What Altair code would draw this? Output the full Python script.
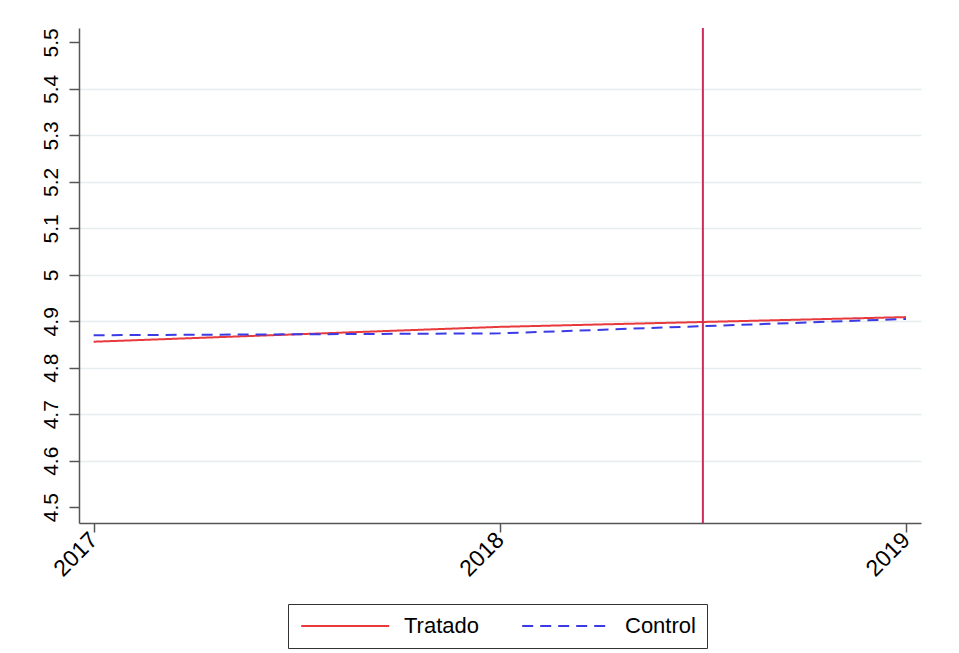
import altair as alt
import pandas as pd

# ---- data ----
years = [2017, 2018, 2019]
tratado = [4.856, 4.888, 4.909]
control = [4.870, 4.874, 4.905]
series_names = ["Tratado", "Control"]
treatment_time = [2018.5]
y_ticks = [4.5, 4.6, 4.7, 4.8, 4.9, 5.0, 5.1, 5.2, 5.3, 5.4, 5.5]

df = pd.DataFrame({
    "year": years + years,
    "value": tratado + control,
    "group": [series_names[0]] * len(years) + [series_names[1]] * len(years),
})
vline = pd.DataFrame({"year": treatment_time})

FONT = "Liberation Sans"
RED = "#e8393c"
BLUE = "#3b3be6"
VLINE = "#cc2c5a"
AXIS = "#555555"

# yearly ticks (2017, 2018, 2019) come from the scale's own tick generator
x_axis = alt.Axis(
    tickCount=2, tickMinStep=1, title=None, grid=False,
    labelExpr="format(datum.value, 'd')",
    labelAngle=315, labelAlign="right", labelBaseline="middle",
    labelFontSize=23, labelFont=FONT, labelColor="black",
    labelOverlap=False, labelFlush=False, labelBound=False,
    tickSize=9, tickColor=AXIS, tickWidth=1.5,
    domainColor=AXIS, domainWidth=1.5, labelPadding=4,
)
x_scale = alt.Scale(domain=[2016.964, 2019.037], nice=False, zero=False)

y_enc = alt.Y(
    "value:Q",
    scale=alt.Scale(domain=[4.466, 5.531], nice=False, zero=False),
    axis=alt.Axis(
        values=y_ticks, format=".1~f", title=None, grid=True,
        gridColor="#e6edf0", gridWidth=1.5,
        gridOpacity=alt.condition("datum.value < 4.55 || datum.value > 5.45", alt.value(0), alt.value(1)),
        labelAngle=270, labelFontSize=21, labelFont=FONT, labelColor="black",
        labelOverlap=False, labelFlush=False,
        tickSize=10, tickColor=AXIS, tickWidth=1.5,
        domainColor=AXIS, domainWidth=1.5, labelPadding=8,
    ),
)

lines = alt.Chart(df).mark_line(strokeWidth=2).encode(
    x=alt.X("year:Q", scale=x_scale, axis=x_axis),
    y=y_enc,
    color=alt.Color(
        "group:N",
        scale=alt.Scale(domain=series_names, range=[RED, BLUE]),
        legend=alt.Legend(title=None),
    ),
    strokeDash=alt.StrokeDash(
        "group:N",
        scale=alt.Scale(domain=series_names, range=[[1, 0], [11, 7]]),
        legend=alt.Legend(title=None),
    ),
)

rule = alt.Chart(vline).mark_rule(color=VLINE, strokeWidth=2).encode(
    x=alt.X("year:Q", scale=x_scale, axis=x_axis)
)

chart = (
    alt.layer(lines, rule)
    .properties(
        width=842, height=495,
        padding={"left": 31, "top": 19, "right": 17, "bottom": 5},
        background="white",
    )
    .configure_view(stroke=None)
    .configure_legend(
        orient="none", legendX=209, legendY=576, direction="horizontal",
        strokeColor="#333333", padding=11, symbolType="M-1,0H9",
        symbolSize=310, symbolStrokeWidth=2, labelFontSize=22,
        labelFont=FONT, labelColor="black", labelOffset=83,
        columnPadding=38, labelLimit=300,
    )
)

chart.save("out.html", embed_options={"renderer": "svg", "actions": False})
